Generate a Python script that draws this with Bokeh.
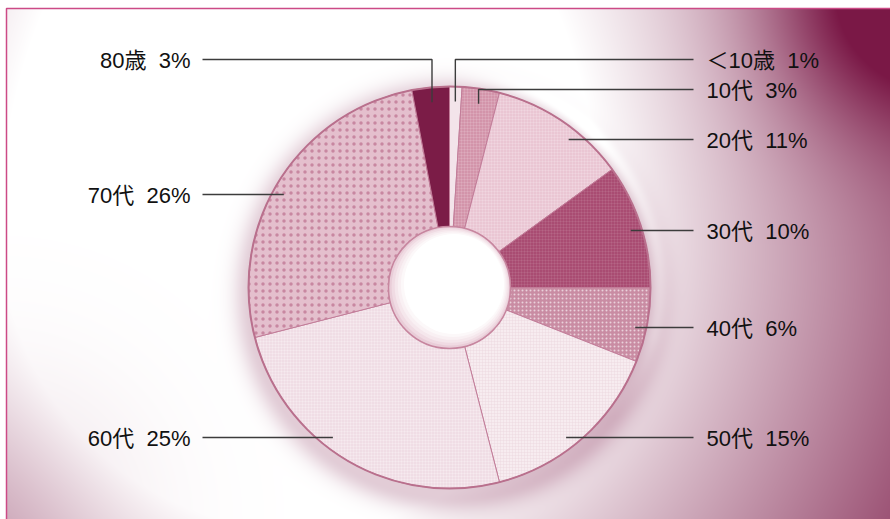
import numpy as np
from bokeh.plotting import figure
from bokeh.models import ColumnDataSource, Range1d
from bokeh.core.properties import value
from bokeh.embed import file_html
from bokeh.resources import INLINE

# ---------------- data ----------------
categories = ["＜10歳", "10代", "20代", "30代", "40代", "50代", "60代", "70代", "80歳"]
shares = [1, 3, 11, 10, 6, 15, 25, 26, 3]

# ---------------- layout (not data) ----------------
W, H = 890, 519
CX, CY_PX = 449, 287          # donut centre (pixels from top)
R_OUT, R_IN = 201, 61
label_y_px = [59, 89, 139, 230, 327, 437, 437, 194, 59]
label_side = ["right", "right", "right", "right", "right", "right", "left", "left", "left"]
use_elbow = [True, True, False, False, False, False, False, False, True]
RIGHT_LINE_X, RIGHT_TEXT_X = 693, 706
LEFT_LINE_X, LEFT_TEXT_X = 202, 190
R_ANCHOR, R_ELBOW = 190, 186

# ---------------- styles ----------------
fills = ["#f3e4ea", "#d394aa", "#eac6d3", "#a94c72", "#c98ca3", "#f7ecf0", "#f0dde5", "#e4bfcd", "#7b1c47"]
h_pat = ["blank", "cross", "cross", "cross", "dot", "cross", "cross", "dot", "blank"]
h_col = ["#ffffff", "#ffffff", "#ffffff", "#ffffff", "#ffffff", "#e6ced8", "#ffffff", "#b05a7e", "#ffffff"]
h_alpha = [0.0, 0.2, 0.25, 0.12, 0.6, 0.5, 0.35, 0.55, 0.0]
h_scale = [6, 3, 3, 3, 4, 3, 3, 7, 6]
h_weight = [1, 0.6, 0.6, 0.6, 1, 0.6, 0.6, 1, 1]


def Y(py):
    return H - py


frac = np.array(shares, dtype=float) / sum(shares)
cum_end = np.cumsum(frac)
cum_start = cum_end - frac
start_angle = np.pi / 2 - 2 * np.pi * cum_start
end_angle = np.pi / 2 - 2 * np.pi * cum_end
mid_theta = 2 * np.pi * (cum_start + cum_end) / 2   # clockwise from 12 o'clock

# ---------------- background gradient ----------------
xs = np.arange(W) + 0.5
ys = np.arange(H) + 0.5
X, Yp = np.meshgrid(xs, ys)
dyy = np.where(Yp < 230, (Yp - 230) * 0.7, Yp - 230)
d = np.hypot(X - 300, dyy)
t = np.clip((d - 300) / 480, 0, 1)
t += 0.55 * np.exp(-((X - 890) ** 2 + Yp ** 2) / (2 * 90 ** 2))
t += 0.12 * np.exp(-(X ** 2 + (Yp - 519) ** 2) / (2 * 100 ** 2))
ds = np.hypot(X - (CX + 2), Yp - (CY_PX + 8))
t += 0.22 * np.exp(-(np.clip(ds - R_OUT, 0, None)) ** 2 / (2 * 12 ** 2))
d0 = np.hypot(X - CX, Yp - CY_PX)
halo_w = np.clip((X - CX) / 140, 0, 1) * np.clip((CY_PX + 130 - Yp) / 80, 0, 1)
t -= 0.14 * np.exp(-((d0 - 209) ** 2) / (2 * 6 ** 2)) * halo_w
t = np.clip(t, 0, 1)
dark = np.array([122, 24, 70], dtype=float)
rgba = np.zeros((H, W, 4), dtype=np.uint8)
for k in range(3):
    rgba[..., k] = np.round(255 - (255 - dark[k]) * t).astype(np.uint8)
rgba[..., 3] = 255
outside = (X < 6) | (Yp < 8)
rgba[outside, :3] = 255
img = np.ascontiguousarray(np.flipud(rgba)).view(dtype=np.uint32).reshape(H, W)

p = figure(width=W, height=H, output_backend="svg", toolbar_location=None,
           x_range=Range1d(0, W), y_range=Range1d(0, H), min_border=0)
p.axis.visible = False
p.grid.visible = False
p.outline_line_color = None
p.background_fill_color = "white"
p.border_fill_color = "white"

p.image_rgba(image=[img], x=0, y=0, dw=W, dh=H)

# frame border (top & left)
p.line([6, 6, W], [0, Y(8), Y(8)], line_color="#cc4a86", line_width=1.5)

# ---------------- donut ----------------
src = ColumnDataSource(dict(cat=categories, share=shares, start=start_angle, end=end_angle,
                            fill=fills, hp=h_pat, hc=h_col, ha=h_alpha, hs=h_scale, hw=h_weight))
p.annular_wedge(x=CX, y=Y(CY_PX), inner_radius=R_IN, outer_radius=R_OUT,
                start_angle="start", end_angle="end", direction="clock", source=src,
                fill_color="fill", line_color="#c27d99", line_width=1,
                hatch_pattern="hp", hatch_color="hc", hatch_alpha="ha",
                hatch_scale="hs", hatch_weight="hw")
# outer rim
p.circle(x=[CX], y=[Y(CY_PX)], radius=R_OUT, fill_color=None, line_color="#b9708d", line_width=2)
# hole with soft bevel (layers getting lighter towards the upper right)
hole_cols = ["#e9cdd8", "#f0dbe3", "#f5e7ec", "#f9f0f3", "#fcf8f9", "#ffffff"]
for k, c in enumerate(hole_cols):
    p.circle(x=[CX + 0.9 * k], y=[Y(CY_PX) + 0.7 * k], radius=R_IN - 2.2 * k,
             fill_color=c, line_color=None)
p.circle(x=[CX], y=[Y(CY_PX)], radius=R_IN, fill_color=None, line_color="#c7869f", line_width=1.5)

# ---------------- leader lines & labels ----------------
lx, ly = [], []
tx, ty, tt, ta = [], [], [], []
for i, cat in enumerate(categories):
    yl = label_y_px[i]
    right = label_side[i] == "right"
    outer_x = RIGHT_LINE_X if right else LEFT_LINE_X
    if use_elbow[i]:
        ax = CX + R_ELBOW * np.sin(mid_theta[i])
        ay = CY_PX - R_ELBOW * np.cos(mid_theta[i])
        lx.append([ax, ax, outer_x])
        ly.append([Y(ay), Y(yl), Y(yl)])
    else:
        dy = yl - CY_PX
        dx = np.sqrt(max(R_ANCHOR ** 2 - dy ** 2, 0))
        ex = CX + dx if right else CX - dx
        lx.append([ex, outer_x])
        ly.append([Y(yl), Y(yl)])
    tx.append(RIGHT_TEXT_X if right else LEFT_TEXT_X)
    ty.append(Y(yl + 1))
    tt.append(f"{cat}\u00a0\u00a0{shares[i]}%")
    ta.append("left" if right else "right")

p.multi_line(xs=lx, ys=ly, line_color="#3c3c3c", line_width=1.4)
lsrc = ColumnDataSource(dict(x=tx, y=ty, text=tt, align=ta))
p.text(x="x", y="y", text="text", text_align="align", source=lsrc,
       text_baseline="middle", text_font=value("Liberation Sans, Noto Sans CJK JP"),
       text_font_size="22px", text_color="#111111")

open("out.html", "w").write(file_html(p, INLINE))
